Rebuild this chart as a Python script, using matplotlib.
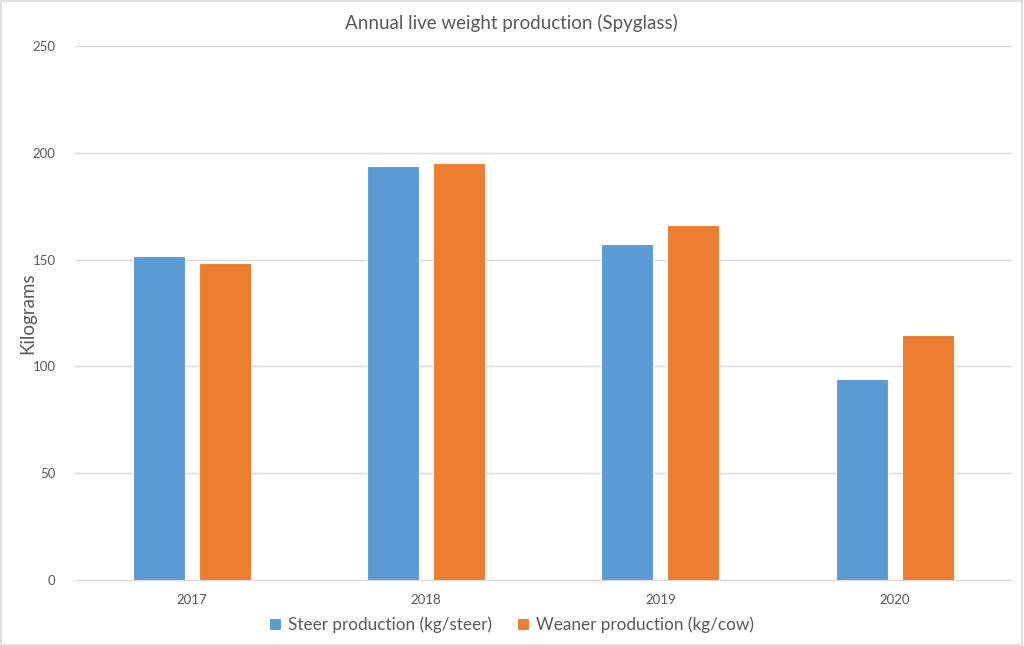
import matplotlib
matplotlib.use("Agg")
import matplotlib.pyplot as plt
import numpy as np

plt.rcParams['font.family'] = ['Lato', 'DejaVu Sans']

# Data
years = ['2017', '2018', '2019', '2020']
steer = [151.6, 193.8, 157.1, 93.9]
weaner = [148.2, 195.3, 166.3, 114.7]

txt = '#595959'
fig = plt.figure(figsize=(10.24, 6.46), dpi=100)
ax = fig.add_axes([0.0732, 0.1022, 0.9148, 0.8266])

x = np.arange(len(years))
w = 0.222
off = 0.141
ax.bar(x - off, steer, w, color='#5B9BD5', edgecolor='white', linewidth=0.8,
       label='Steer production (kg/steer)', zorder=3)
ax.bar(x + off, weaner, w, color='#ED7D31', edgecolor='white', linewidth=0.8,
       label='Weaner production (kg/cow)', zorder=3)

ax.set_xlim(-0.5, 3.5)
ax.set_ylim(0, 250)
ax.set_yticks(range(0, 251, 50))
ax.set_xticks(x)
ax.set_xticklabels(years)
ax.grid(axis='y', color='#D9D9D9', linewidth=1, zorder=0)
for s in ['top', 'right', 'left']:
    ax.spines[s].set_visible(False)
ax.spines['bottom'].set_color('#D9D9D9')
ax.tick_params(axis='both', length=0, colors=txt, labelsize=9.5)
ax.tick_params(axis='x', pad=10)
ax.tick_params(axis='y', pad=14)

ax.set_ylabel('Kilograms', color=txt, fontsize=13.5, labelpad=-3)
ax.set_title('Annual live weight production (Spyglass)', color=txt, fontsize=13.5,
             pad=12, x=0.466)

ax.legend(loc='center', bbox_to_anchor=(0.466, -0.084), ncol=2, frameon=False,
          fontsize=12.3, labelcolor=txt, handlelength=0.7, handleheight=0.7,
          handletextpad=0.4, columnspacing=1.5)

fig.patches.append(plt.Rectangle((0.001, 0.001), 0.997, 0.997, transform=fig.transFigure,
                                 fill=False, edgecolor='#D9D9D9', linewidth=1.2))

fig.savefig('out.png', dpi=100)
